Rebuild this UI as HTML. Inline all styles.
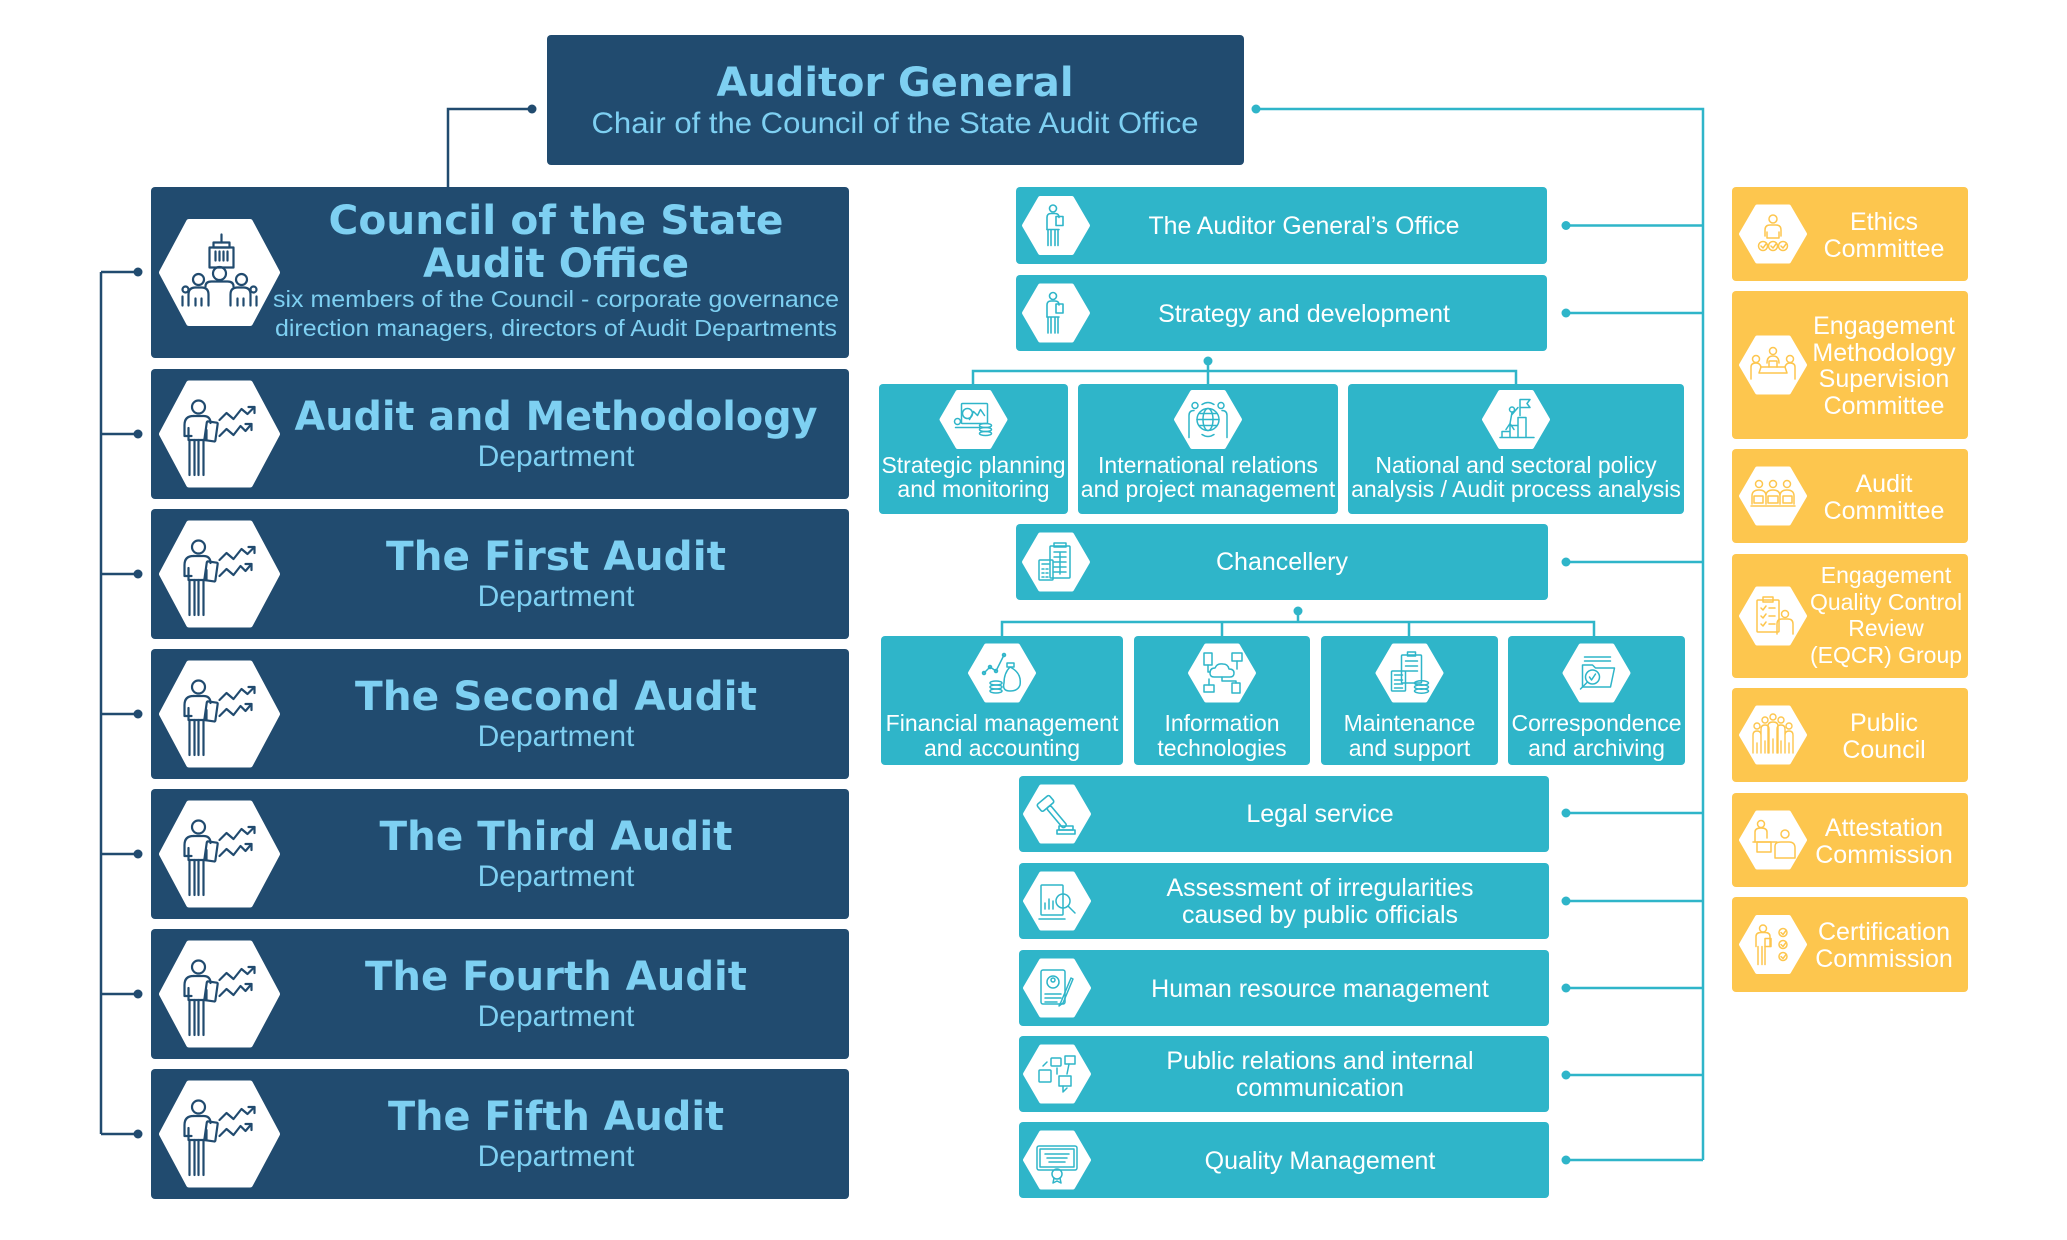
<!DOCTYPE html>
<html><head><meta charset="utf-8"><style>
html,body{margin:0;padding:0;background:#fff;}
svg{display:block}
.t{font-family:"DejaVu Sans","Liberation Sans",sans-serif;font-weight:bold;fill:#7ED0F2;text-anchor:middle}
.s{font-family:"Liberation Sans",Arial,sans-serif;text-anchor:middle}
.lb{fill:#7ED0F2}
.w{fill:#ffffff}
</style></head><body>
<svg width="2067" height="1240" viewBox="0 0 2067 1240" xmlns="http://www.w3.org/2000/svg">
<defs>
<polygon id="hexL" points="-57.5,0 -30.5,-50.5 30.5,-50.5 57.5,0 30.5,50.5 -30.5,50.5" fill="#fff" stroke="#fff" stroke-width="6" stroke-linejoin="round"/>
<polygon id="hexS" points="-32,0 -16,-27.5 16,-27.5 32,0 16,27.5 -16,27.5" fill="#fff" stroke="#fff" stroke-width="4" stroke-linejoin="round"/>
<g id="deptIco" fill="none" stroke="#214B6F" stroke-width="2.2" stroke-linecap="round" stroke-linejoin="round">
<circle cx="-21" cy="-27" r="6.5"/>
<path d="M-26 -18 H-16 Q-9 -18 -9 -11"/>
<path d="M-26 -18 Q-35 -18 -35 -9 V2 H-28"/>
<path d="M-31 -6 V6 H-13 V-4"/>
<path d="M-30 6 V41 M-25 6 V41 M-21 6 V41 M-16 6 V41"/>
<rect x="-14" y="-12" width="11" height="19" rx="1" transform="rotate(8 -8 -2)"/>
<path d="M0 -14 L7 -21 L14 -15 L22 -25 L28 -20 L35 -27"/>
<path d="M29 -27 H35 V-21"/>
<path d="M0 2 L7 -5 L14 1 L21 -8 L26 -3 L32 -10"/>
<path d="M26 -10 H32 V-4"/>
</g>
<g id="councilIco" fill="none" stroke="#214B6F" stroke-width="2.2" stroke-linecap="round" stroke-linejoin="round">
<path d="M2 -38 V-30"/>
<rect x="-6" y="-30" width="16" height="5"/>
<rect x="-10" y="-25" width="24" height="20"/>
<path d="M-4 -21 V-12 M0 -21 V-12 M4 -21 V-12 M8 -21 V-12"/>
<circle cx="0" cy="1" r="6.5"/>
<circle cx="-21" cy="7" r="5.5"/>
<circle cx="22" cy="7" r="5.5"/>
<path d="M-14 14 Q-14 9 -8 9 H8 Q14 9 14 14"/>
<path d="M-31 33 V22 Q-31 15 -24 15 H-18 Q-11 15 -11 22 V33"/>
<path d="M11 33 V22 Q11 15 18 15 H24 Q31 15 31 22 V33"/>
<circle cx="-34" cy="17" r="3"/><circle cx="34" cy="17" r="3"/>
<path d="M-37 33 V24 M-24 26 V33 M-18 26 V33 M18 26 V33 M24 26 V33 M37 33 V24"/>
</g>
<g id="tPerson" fill="none" stroke="#2FB5C9" stroke-width="1.6" stroke-linecap="round" stroke-linejoin="round">
<circle cx="-3" cy="-17" r="3.5"/>
<path d="M-9 4 V-8 Q-9 -12 -5 -12 H-1 Q3 -12 3 -8"/>
<path d="M-9 4 H3 M-8 4 V20 M-5 4 V20 M-1 4 V20 M2 4 V20"/>
<rect x="0" y="-9" width="7" height="9"/>
</g>
<g id="tStrat" fill="none" stroke="#2FB5C9" stroke-width="1.5" stroke-linecap="round" stroke-linejoin="round">
<rect x="-12" y="-16" width="26" height="20" rx="1"/>
<polyline points="-4,0 0,-8 4,-4 7,-10 11,-4"/>
<circle cx="-6" cy="-6" r="5"/>
<path d="M-18 8 H6"/>
<ellipse cx="12" cy="6" rx="6" ry="2"/><ellipse cx="12" cy="10" rx="6" ry="2"/><ellipse cx="12" cy="14" rx="6" ry="2"/>
<circle cx="-16" cy="2" r="3"/>
</g>
<g id="tGlobe" fill="none" stroke="#2FB5C9" stroke-width="1.5" stroke-linecap="round" stroke-linejoin="round">
<circle cx="0" cy="0" r="11"/><ellipse cx="0" cy="0" rx="5" ry="11"/>
<path d="M-11 0 H11 M-9 -6 H9 M-9 6 H9"/>
<circle cx="-13" cy="-14" r="3"/><circle cx="13" cy="-14" r="3"/>
<path d="M-19 18 V-4 Q-19 -9 -14 -9 M19 18 V-4 Q19 -9 14 -9"/>
<path d="M-6 -15 Q0 -19 6 -15 M-6 15 Q0 19 6 15"/>
</g>
<g id="tClimb" fill="none" stroke="#2FB5C9" stroke-width="1.5" stroke-linecap="round" stroke-linejoin="round">
<path d="M-16 18 H18 M-14 18 V12 H-6 V6 H2 V-2 H10 V18 M-6 12 V18 M2 6 V18"/>
<path d="M4 -20 V-4 M4 -20 H14 L11 -16 L14 -12 H4"/>
<circle cx="-4" cy="-10" r="2.5"/>
<path d="M-4 -7 L-6 4 M-4 -5 L2 -12 M-6 4 L-2 10 M-6 4 L-10 10"/>
</g>
<g id="tCalc" fill="none" stroke="#2FB5C9" stroke-width="1.5" stroke-linecap="round" stroke-linejoin="round">
<rect x="-17" y="-2" width="14" height="20" rx="1"/>
<path d="M-14 2 H-6 M-14 7 H-12 M-10 7 H-8 M-14 11 H-12 M-10 11 H-8 M-14 15 H-12 M-10 15 H-8"/>
<rect x="-6" y="-16" width="20" height="32" rx="1"/><rect x="-2" y="-19" width="12" height="4"/>
<path d="M-2 -10 H10 M-2 -5 H10 M-2 0 H10 M-2 5 H10 M-2 10 H10 M4 -10 V12"/>
</g>
<g id="tFin" fill="none" stroke="#2FB5C9" stroke-width="1.5" stroke-linecap="round" stroke-linejoin="round">
<polyline points="-18,0 -12,-6 -6,-2 2,-18"/>
<circle cx="-18" cy="0" r="1.5"/><circle cx="-12" cy="-6" r="1.5"/><circle cx="-6" cy="-2" r="1.5"/><circle cx="2" cy="-18" r="1.5"/>
<path d="M8 -6 Q20 0 18 12 Q16 18 8 18 Q0 18 2 10 Q2 0 8 -6 Z"/><rect x="5" y="-10" width="7" height="4"/>
<ellipse cx="-6" cy="10" rx="6" ry="2"/><ellipse cx="-6" cy="14" rx="6" ry="2"/><ellipse cx="-6" cy="18" rx="6" ry="2"/>
</g>
<g id="tIT" fill="none" stroke="#2FB5C9" stroke-width="1.5" stroke-linecap="round" stroke-linejoin="round">
<path d="M-8 4 Q-12 4 -12 0 Q-12 -5 -7 -5 Q-5 -10 1 -9 Q6 -9 7 -4 Q12 -4 12 0 Q12 4 8 4 Z"/>
<rect x="-18" y="-20" width="8" height="12"/><rect x="10" y="-20" width="10" height="8"/>
<rect x="-18" y="12" width="10" height="7"/><rect x="10" y="10" width="8" height="10"/>
<path d="M-14 -8 V-1 H-12 M15 -12 V-4 M-13 12 V6 M0 4 V8 H14 V10"/>
</g>
<g id="tMaint" fill="none" stroke="#2FB5C9" stroke-width="1.5" stroke-linecap="round" stroke-linejoin="round">
<rect x="-8" y="-18" width="20" height="28" rx="1"/><rect x="-2" y="-21" width="8" height="4"/>
<path d="M-4 -12 H8 M-4 -7 H8 M-4 -2 H8"/>
<rect x="-18" y="-2" width="14" height="20" rx="1"/>
<path d="M-15 2 H-7 M-15 7 H-7 M-15 11 H-7 M-15 15 H-7"/>
<ellipse cx="12" cy="10" rx="7" ry="2.2"/><ellipse cx="12" cy="14" rx="7" ry="2.2"/><ellipse cx="12" cy="18" rx="7" ry="2.2"/>
</g>
<g id="tFolder" fill="none" stroke="#2FB5C9" stroke-width="1.5" stroke-linecap="round" stroke-linejoin="round">
<path d="M-12 -16 H14 M-12 -12 H14"/>
<path d="M-14 14 V-8 H-4 L-1 -5 H18 L14 14 Z"/>
<circle cx="-4" cy="4" r="7"/><path d="M-7 4 L-5 7 L-1 1"/><path d="M-9 9 L-16 16"/>
</g>
<g id="tGavel" fill="none" stroke="#2FB5C9" stroke-width="1.6" stroke-linecap="round" stroke-linejoin="round">
<g transform="rotate(-40)"><rect x="-10" y="-20" width="16" height="9" rx="2"/><rect x="-4.5" y="-11" width="5" height="26" rx="2"/></g>
<rect x="2" y="12" width="14" height="4"/><rect x="0" y="16" width="18" height="4"/>
</g>
<g id="tDoc" fill="none" stroke="#2FB5C9" stroke-width="1.5" stroke-linecap="round" stroke-linejoin="round">
<rect x="-16" y="-16" width="22" height="30" rx="1"/>
<path d="M-12 8 V2 M-8 8 V-2 M-4 8 V0"/>
<circle cx="6" cy="0" r="7"/><path d="M11 5 L18 12"/>
<path d="M-18 18 H8"/>
</g>
<g id="tHR" fill="none" stroke="#2FB5C9" stroke-width="1.5" stroke-linecap="round" stroke-linejoin="round">
<rect x="-16" y="-18" width="24" height="34" rx="2"/><circle cx="-4" cy="-6" r="6"/><circle cx="-4" cy="-8" r="2"/>
<path d="M-12 6 H4 M-12 10 H4 M-12 14 H0"/>
<path d="M14 -10 L4 14 L2 18 L6 15 L16 -9 Z"/>
</g>
<g id="tPR" fill="none" stroke="#2FB5C9" stroke-width="1.5" stroke-linecap="round" stroke-linejoin="round">
<rect x="-18" y="-4" width="12" height="12" rx="1"/><rect x="-6" y="-16" width="10" height="8" rx="1"/>
<rect x="8" y="-18" width="10" height="8"/><rect x="2" y="2" width="12" height="10"/>
<path d="M-14 -8 L-10 -12 M0 -6 V0 M12 -10 L10 0 M6 12 L6 18 L10 14"/>
</g>
<g id="tCert" fill="none" stroke="#2FB5C9" stroke-width="1.5" stroke-linecap="round" stroke-linejoin="round">
<rect x="-20" y="-14" width="40" height="24" rx="2"/><rect x="-17" y="-11" width="34" height="18"/>
<path d="M-12 -6 H12 M-10 -2 H10 M-8 2 H8"/>
<circle cx="0" cy="14" r="5"/><path d="M-3 18 L-4 23 L0 21 L4 23 L3 18"/>
</g>
<g id="yEth" fill="none" stroke="#FDC64E" stroke-width="1.5" stroke-linecap="round" stroke-linejoin="round">
<circle cx="0" cy="-15" r="4"/>
<path d="M-8 2 V-4 Q-8 -9 -3 -9 H3 Q8 -9 8 -4 V2 M-6 -2 V4 H6 V-2"/>
<circle cx="-10" cy="12" r="4.5"/><circle cx="0" cy="12" r="4.5"/><circle cx="10" cy="12" r="4.5"/>
<path d="M-12 12 L-10 14 L-7 10 M-2 12 L0 14 L3 10 M8 12 L10 14 L13 10"/>
</g>
<g id="yMeet" fill="none" stroke="#FDC64E" stroke-width="1.5" stroke-linecap="round" stroke-linejoin="round">
<circle cx="0" cy="-14" r="3.5"/><circle cx="-17" cy="-6" r="3.5"/><circle cx="17" cy="-6" r="3.5"/>
<path d="M-6 -2 Q-6 -9 0 -9 Q6 -9 6 -2"/><path d="M-12 2 H12 L14 8 H-14 Z"/>
<path d="M-22 14 V2 Q-22 -2 -17 -2 Q-13 -2 -12 2 M22 14 V2 Q22 -2 17 -2 Q13 -2 12 2"/>
<path d="M-4 2 V-4 H4 V2"/>
</g>
<g id="yAud" fill="none" stroke="#FDC64E" stroke-width="1.5" stroke-linecap="round" stroke-linejoin="round">
<circle cx="-14" cy="-12" r="3.5"/><circle cx="0" cy="-12" r="3.5"/><circle cx="14" cy="-12" r="3.5"/>
<path d="M-21 8 V0 Q-21 -6 -14 -6 Q-7 -6 -7 0 M-7 8 V0 Q-7 -6 0 -6 Q7 -6 7 0 V8 M7 0 Q7 -6 14 -6 Q21 -6 21 0 V8"/>
<rect x="-19" y="0" width="9" height="7"/><rect x="-5" y="0" width="10" height="7"/><rect x="10" y="0" width="9" height="7"/>
<path d="M-22 10 H22"/>
</g>
<g id="yQC" fill="none" stroke="#FDC64E" stroke-width="1.5" stroke-linecap="round" stroke-linejoin="round">
<rect x="-16" y="-16" width="22" height="32" rx="1"/><rect x="-10" y="-19" width="10" height="5"/>
<path d="M-12 -8 L-10 -6 L-7 -10 M-4 -8 H2 M-12 0 L-10 2 L-7 -2 M-4 0 H2 M-12 8 L-10 10 L-7 6 M-4 8 H2"/>
<circle cx="12" cy="-2" r="3.5"/><path d="M4 18 V8 Q4 3 9 3 H15 Q20 3 20 8 V18"/>
</g>
<g id="yCrowd" fill="none" stroke="#FDC64E" stroke-width="1.4" stroke-linecap="round" stroke-linejoin="round">
<circle cx="-16" cy="-9" r="3"/><circle cx="-8" cy="-15" r="3"/><circle cx="0" cy="-18" r="3"/><circle cx="8" cy="-15" r="3"/><circle cx="16" cy="-9" r="3"/>
<path d="M-20 18 V0 Q-20 -4 -16 -4 Q-12 -4 -12 0 V18 M-12 18 V-6 Q-12 -10 -8 -10 Q-4 -10 -4 -6 V18 M-5 18 V-9 Q-5 -13 0 -13 Q5 -13 5 -9 V18 M4 18 V-6 Q4 -10 8 -10 Q12 -10 12 -6 V18 M12 18 V0 Q12 -4 16 -4 Q20 -4 20 0 V18"/>
<path d="M-16 8 V18 M-8 6 V18 M0 4 V18 M8 6 V18 M16 8 V18"/>
</g>
<g id="yAtt" fill="none" stroke="#FDC64E" stroke-width="1.5" stroke-linecap="round" stroke-linejoin="round">
<circle cx="-12" cy="-16" r="3.5"/>
<path d="M-18 2 V-8 Q-18 -12 -12 -12 Q-6 -12 -6 -8 V-2"/>
<rect x="-16" y="2" width="14" height="10"/><path d="M-20 2 H4"/>
<circle cx="12" cy="-6" r="4"/><path d="M2 18 V6 Q2 2 8 2 H16 Q22 2 22 8 V18 Z"/>
</g>
<g id="yCertC" fill="none" stroke="#FDC64E" stroke-width="1.5" stroke-linecap="round" stroke-linejoin="round">
<circle cx="-10" cy="-16" r="3.5"/>
<path d="M-17 2 V-8 Q-17 -12 -12 -12 H-8 Q-3 -12 -3 -8 V2"/>
<path d="M-15 2 V20 M-11 2 V20 M-8 2 V20"/><rect x="-8" y="-6" width="6" height="8"/>
<circle cx="10" cy="-12" r="4"/><circle cx="10" cy="0" r="4"/><circle cx="10" cy="12" r="4"/>
<path d="M8 -12 L10 -10 L13 -14 M8 0 L10 2 L13 -2 M8 12 L10 14 L13 10"/>
</g>
</defs>

<!-- ===== Connectors ===== -->
<g fill="none" stroke="#214B6F" stroke-width="2.5">
<path d="M532 109 H448 V187"/>
<path d="M101 272 V1134"/>
<path d="M101 272 H138 M101 434 H138 M101 574 H138 M101 714 H138 M101 854 H138 M101 994 H138 M101 1134 H138"/>
</g>
<g fill="#214B6F">
<circle cx="532" cy="109" r="4.5"/>
<circle cx="138" cy="272" r="4.5"/><circle cx="138" cy="434" r="4.5"/><circle cx="138" cy="574" r="4.5"/>
<circle cx="138" cy="714" r="4.5"/><circle cx="138" cy="854" r="4.5"/><circle cx="138" cy="994" r="4.5"/><circle cx="138" cy="1134" r="4.5"/>
</g>
<g fill="none" stroke="#2FB5C9" stroke-width="2.5">
<path d="M1256 109 H1703 V1160"/>
<path d="M1703 225.5 H1566 M1703 313 H1566 M1703 562 H1566 M1703 813 H1566 M1703 901 H1566 M1703 988 H1566 M1703 1075 H1566 M1703 1160 H1566"/>
<path d="M1208 361 V384 M973 384 V371 H1516 V384"/>
<path d="M1298 611 V622 M1002 636 V622 H1594 V636 M1222 622 V636 M1409 622 V636"/>
</g>
<g fill="#2FB5C9">
<circle cx="1256" cy="109" r="4.5"/>
<circle cx="1566" cy="225.5" r="4.5"/><circle cx="1566" cy="313" r="4.5"/><circle cx="1566" cy="562" r="4.5"/>
<circle cx="1566" cy="813" r="4.5"/><circle cx="1566" cy="901" r="4.5"/><circle cx="1566" cy="988" r="4.5"/>
<circle cx="1566" cy="1075" r="4.5"/><circle cx="1566" cy="1160" r="4.5"/>
<circle cx="1208" cy="361" r="4.5"/><circle cx="1298" cy="611" r="4.5"/>
</g>

<!-- ===== Auditor General ===== -->
<rect x="547" y="35" width="697" height="130" rx="4" fill="#214B6F"/>
<text class="t" x="895" y="96" font-size="40" textLength="357" lengthAdjust="spacingAndGlyphs">Auditor General</text>
<text class="s lb" x="895" y="133" font-size="30" textLength="607" lengthAdjust="spacingAndGlyphs">Chair of the Council of the State Audit Office</text>

<!-- ===== Left department boxes ===== -->
<g fill="#214B6F">
<rect x="151" y="187" width="698" height="171" rx="4"/>
<rect x="151" y="369" width="698" height="130" rx="4"/>
<rect x="151" y="509" width="698" height="130" rx="4"/>
<rect x="151" y="649" width="698" height="130" rx="4"/>
<rect x="151" y="789" width="698" height="130" rx="4"/>
<rect x="151" y="929" width="698" height="130" rx="4"/>
<rect x="151" y="1069" width="698" height="130" rx="4"/>
</g>
<use href="#hexL" x="219.5" y="272.5"/><use href="#councilIco" x="219.5" y="272.5"/>
<use href="#hexL" x="219.5" y="434"/><use href="#deptIco" x="219.5" y="434"/>
<use href="#hexL" x="219.5" y="574"/><use href="#deptIco" x="219.5" y="574"/>
<use href="#hexL" x="219.5" y="714"/><use href="#deptIco" x="219.5" y="714"/>
<use href="#hexL" x="219.5" y="854"/><use href="#deptIco" x="219.5" y="854"/>
<use href="#hexL" x="219.5" y="994"/><use href="#deptIco" x="219.5" y="994"/>
<use href="#hexL" x="219.5" y="1134"/><use href="#deptIco" x="219.5" y="1134"/>

<text class="t" x="556" y="234" font-size="40" textLength="455" lengthAdjust="spacingAndGlyphs">Council of the State</text>
<text class="t" x="556" y="277" font-size="40" textLength="266" lengthAdjust="spacingAndGlyphs">Audit Office</text>
<text class="s lb" x="556" y="307" font-size="23" textLength="566" lengthAdjust="spacingAndGlyphs">six members of the Council - corporate governance</text>
<text class="s lb" x="556" y="336" font-size="23" textLength="562" lengthAdjust="spacingAndGlyphs">direction managers, directors of Audit Departments</text>

<text class="t" x="556" y="430" font-size="40" textLength="523" lengthAdjust="spacingAndGlyphs">Audit and Methodology</text>
<text class="s lb" x="556" y="466" font-size="30">Department</text>
<text class="t" x="556" y="570" font-size="40" textLength="340" lengthAdjust="spacingAndGlyphs">The First Audit</text>
<text class="s lb" x="556" y="606" font-size="30">Department</text>
<text class="t" x="556" y="710" font-size="40" textLength="402" lengthAdjust="spacingAndGlyphs">The Second Audit</text>
<text class="s lb" x="556" y="746" font-size="30">Department</text>
<text class="t" x="556" y="850" font-size="40" textLength="353" lengthAdjust="spacingAndGlyphs">The Third Audit</text>
<text class="s lb" x="556" y="886" font-size="30">Department</text>
<text class="t" x="556" y="990" font-size="40" textLength="382" lengthAdjust="spacingAndGlyphs">The Fourth Audit</text>
<text class="s lb" x="556" y="1026" font-size="30">Department</text>
<text class="t" x="556" y="1130" font-size="40" textLength="336" lengthAdjust="spacingAndGlyphs">The Fifth Audit</text>
<text class="s lb" x="556" y="1166" font-size="30">Department</text>

<!-- ===== Middle teal boxes ===== -->
<g fill="#2FB5C9">
<rect x="1016" y="187" width="531" height="77" rx="4"/>
<rect x="1016" y="275" width="531" height="76" rx="4"/>
<rect x="879" y="384" width="189" height="130" rx="4"/>
<rect x="1078" y="384" width="260" height="130" rx="4"/>
<rect x="1348" y="384" width="336" height="130" rx="4"/>
<rect x="1016" y="524" width="532" height="76" rx="4"/>
<rect x="881" y="636" width="242" height="129" rx="4"/>
<rect x="1134" y="636" width="176" height="129" rx="4"/>
<rect x="1321" y="636" width="177" height="129" rx="4"/>
<rect x="1508" y="636" width="177" height="129" rx="4"/>
<rect x="1019" y="776" width="530" height="76" rx="4"/>
<rect x="1019" y="863" width="530" height="76" rx="4"/>
<rect x="1019" y="950" width="530" height="76" rx="4"/>
<rect x="1019" y="1036" width="530" height="76" rx="4"/>
<rect x="1019" y="1122" width="530" height="76" rx="4"/>
</g>
<use href="#hexS" x="1056" y="225.5"/><use href="#tPerson" x="1056" y="225.5"/>
<use href="#hexS" x="1056" y="313"/><use href="#tPerson" x="1056" y="313"/>
<use href="#hexS" x="973.5" y="419.5"/><use href="#tStrat" x="973.5" y="419.5"/>
<use href="#hexS" x="1208" y="419.5"/><use href="#tGlobe" x="1208" y="419.5"/>
<use href="#hexS" x="1516" y="419.5"/><use href="#tClimb" x="1516" y="419.5"/>
<use href="#hexS" x="1056" y="562"/><use href="#tCalc" x="1056" y="562"/>
<use href="#hexS" x="1002" y="673"/><use href="#tFin" x="1002" y="673"/>
<use href="#hexS" x="1222" y="673"/><use href="#tIT" x="1222" y="673"/>
<use href="#hexS" x="1409.5" y="673"/><use href="#tMaint" x="1409.5" y="673"/>
<use href="#hexS" x="1596.5" y="673"/><use href="#tFolder" x="1596.5" y="673"/>
<use href="#hexS" x="1057" y="814"/><use href="#tGavel" x="1057" y="814"/>
<use href="#hexS" x="1057" y="901"/><use href="#tDoc" x="1057" y="901"/>
<use href="#hexS" x="1057" y="988"/><use href="#tHR" x="1057" y="988"/>
<use href="#hexS" x="1057" y="1074"/><use href="#tPR" x="1057" y="1074"/>
<use href="#hexS" x="1057" y="1160"/><use href="#tCert" x="1057" y="1160"/>

<g class="s w" font-size="25">
<text x="1304" y="234" textLength="311" lengthAdjust="spacingAndGlyphs">The Auditor General’s Office</text>
<text x="1304" y="322">Strategy and development</text>
<text x="1282" y="570">Chancellery</text>
<text x="1320" y="822">Legal service</text>
<text x="1320" y="896">Assessment of irregularities</text>
<text x="1320" y="923">caused by public officials</text>
<text x="1320" y="997">Human resource management</text>
<text x="1320" y="1069">Public relations and internal</text>
<text x="1320" y="1096">communication</text>
<text x="1320" y="1169">Quality Management</text>
</g>
<g class="s w" font-size="23">
<text x="973.5" y="473">Strategic planning</text>
<text x="973.5" y="497">and monitoring</text>
<text x="1208" y="473">International relations</text>
<text x="1208" y="497">and project management</text>
<text x="1516" y="473">National and sectoral policy</text>
<text x="1516" y="497">analysis / Audit process analysis</text>
<text x="1002" y="731">Financial management</text>
<text x="1002" y="756">and accounting</text>
<text x="1222" y="731">Information</text>
<text x="1222" y="756">technologies</text>
<text x="1409.5" y="731">Maintenance</text>
<text x="1409.5" y="756">and support</text>
<text x="1596.5" y="731">Correspondence</text>
<text x="1596.5" y="756">and archiving</text>
</g>

<!-- ===== Right yellow boxes ===== -->
<g fill="#FDC64E">
<rect x="1732" y="187" width="236" height="94" rx="4"/>
<rect x="1732" y="291" width="236" height="148" rx="4"/>
<rect x="1732" y="449" width="236" height="94" rx="4"/>
<rect x="1732" y="554" width="236" height="124" rx="4"/>
<rect x="1732" y="688" width="236" height="94" rx="4"/>
<rect x="1732" y="793" width="236" height="94" rx="4"/>
<rect x="1732" y="897" width="236" height="95" rx="4"/>
</g>
<use href="#hexS" x="1773" y="234"/><use href="#yEth" x="1773" y="234"/>
<use href="#hexS" x="1773" y="365"/><use href="#yMeet" x="1773" y="365"/>
<use href="#hexS" x="1773" y="496"/><use href="#yAud" x="1773" y="496"/>
<use href="#hexS" x="1773" y="616"/><use href="#yQC" x="1773" y="616"/>
<use href="#hexS" x="1773" y="735"/><use href="#yCrowd" x="1773" y="735"/>
<use href="#hexS" x="1773" y="840"/><use href="#yAtt" x="1773" y="840"/>
<use href="#hexS" x="1773" y="944.5"/><use href="#yCertC" x="1773" y="944.5"/>

<g class="s w" font-size="25">
<text x="1884" y="230">Ethics</text>
<text x="1884" y="257">Committee</text>
<text x="1884" y="334">Engagement</text>
<text x="1884" y="361">Methodology</text>
<text x="1884" y="387">Supervision</text>
<text x="1884" y="414">Committee</text>
<text x="1884" y="492">Audit</text>
<text x="1884" y="519">Committee</text>
<text x="1884" y="731">Public</text>
<text x="1884" y="758">Council</text>
<text x="1884" y="836">Attestation</text>
<text x="1884" y="863">Commission</text>
<text x="1884" y="940">Certification</text>
<text x="1884" y="967">Commission</text>
</g>
<g class="s w" font-size="23">
<text x="1886" y="583">Engagement</text>
<text x="1886" y="610">Quality Control</text>
<text x="1886" y="636">Review</text>
<text x="1886" y="663">(EQCR) Group</text>
</g>
</svg>
</body></html>
